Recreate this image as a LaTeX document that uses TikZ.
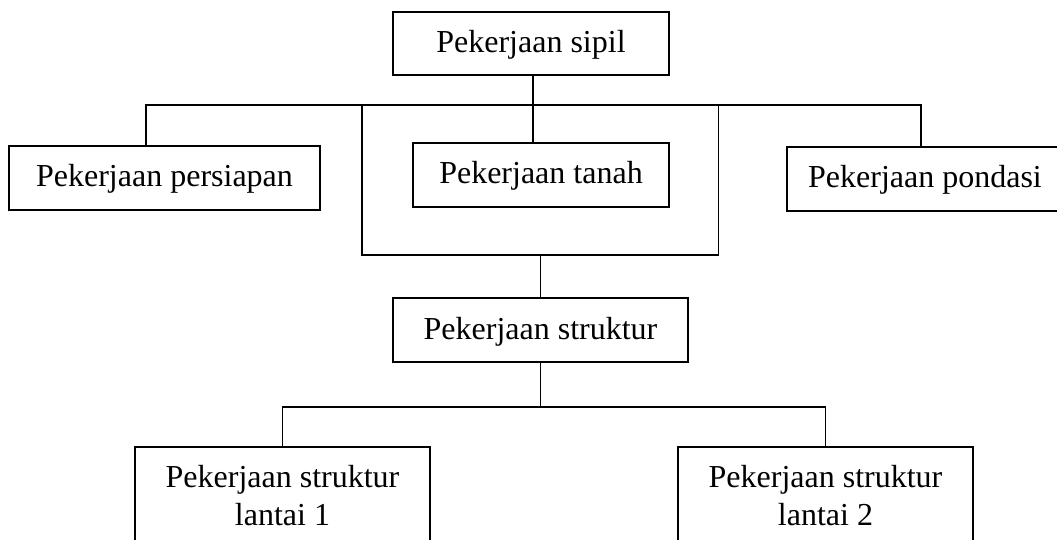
\documentclass[tikz,border=0pt]{standalone}
\usepackage{fontspec}
\setmainfont{Liberation Serif}
\begin{document}
\begin{tikzpicture}[x=1pt, y=-1pt,
  box/.style={draw, line width=1.1pt, inner sep=0pt, align=center,
    font=\fontsize{32}{38}\selectfont},
  onebox/.style={box, text height=23pt, text depth=5pt},
  link/.style={draw, line width=1.8pt, line cap=rect}]
\useasboundingbox (0,0) rectangle (1057,540);

% boxes
\node[onebox, minimum width=276, minimum height=63] (sipil)     at (531,43.5)  {Pekerjaan sipil};
\node[onebox, minimum width=311, minimum height=64] (persiapan) at (164.5,178) {Pekerjaan persiapan};
\node[onebox, minimum width=256, minimum height=64] (tanah)     at (541,175)   {Pekerjaan tanah};
\node[onebox, minimum width=276, minimum height=64] (pondasi)   at (925,179)   {Pekerjaan pondasi};
\node[onebox, minimum width=295, minimum height=64] (struktur)  at (540.5,330) {Pekerjaan struktur};
\node[box, minimum width=295, minimum height=97] (lantaiA) at (282.5,495.5) {Pekerjaan struktur\\lantai 1};
\node[box, minimum width=295, minimum height=97] (lantaiB) at (825.5,495.5) {Pekerjaan struktur\\lantai 2};

% bus and bracket coordinates
\coordinate (barL) at (146,105);
\coordinate (barR) at (921,105);
\coordinate (brL)  at (362,105);
\coordinate (brR)  at (718.5,105);
\coordinate (brBL) at (362,255);
\coordinate (brBR) at (718.5,255);
\coordinate (lowbar) at (0,407);

% upper level
\draw[link] ([xshift=2]sipil.south) -- ([xshift=2]sipil.south |- tanah.north);
\draw[link] (persiapan.north -| barL) -- (barL) -- (barR) -- (barR |- pondasi.north);
\draw[link] (brL) -- (brBL) -- (brBR) -- (brR);
\draw[link] (brBL -| struktur.north) -- (struktur.north);

% lower level
\draw[link] (struktur.south) -- (struktur.south |- lowbar);
\draw[link] (lantaiA.north) -- (lantaiA.north |- lowbar) -- (lantaiB.north |- lowbar) -- (lantaiB.north);
\end{tikzpicture}
\end{document}
